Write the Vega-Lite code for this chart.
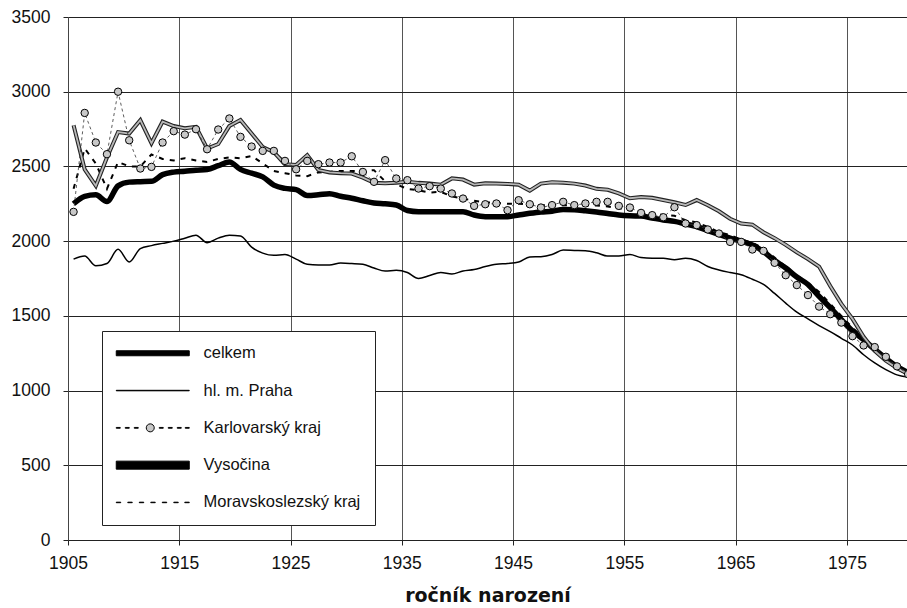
{
  "$schema": "https://vega.github.io/schema/vega-lite/v6.json",
  "width": 839,
  "height": 523,
  "autosize": {"type": "none"},
  "padding": {"left": 68, "top": 17, "right": 0, "bottom": 68},
  "background": "white",
  "config": {
    "view": {"stroke": null},
    "axis": {
      "labelFont": "Liberation Sans, Arial, sans-serif",
      "labelFontSize": 17.5,
      "labelColor": "#111",
      "labelFlush": false,
      "tickColor": "#222",
      "tickSize": 5,
      "domainColor": "#444",
      "gridColor": "#333",
      "gridWidth": 1,
      "gridOpacity": 1
    },
    "legend": {
      "orient": "none",
      "legendX": 34,
      "legendY": 314,
      "strokeColor": "#222",
      "fillColor": "white",
      "padding": 14,
      "labelFont": "Liberation Sans, Arial, sans-serif",
      "labelFontSize": 16.5,
      "labelColor": "#111",
      "labelOffset": 71,
      "labelLimit": 400,
      "rowPadding": 20.3,
      "symbolSize": 100,
      "symbolStrokeColor": "black",
      "symbolStrokeWidth": 1,
      "symbolOpacity": 1
    }
  },
  "data": {
    "values": [
      {"year": 1905, "celkem": 2250, "praha": 1880, "karlovarsky": 2196, "vysocina": 2775, "msk": 2350},
      {"year": 1906, "celkem": 2300, "praha": 1900, "karlovarsky": 2858, "vysocina": 2480, "msk": 2620},
      {"year": 1907, "celkem": 2310, "praha": 1835, "karlovarsky": 2660, "vysocina": 2370, "msk": 2520},
      {"year": 1908, "celkem": 2265, "praha": 1850, "karlovarsky": 2582, "vysocina": 2560, "msk": 2350},
      {"year": 1909, "celkem": 2370, "praha": 1945, "karlovarsky": 3000, "vysocina": 2730, "msk": 2530},
      {"year": 1910, "celkem": 2395, "praha": 1860, "karlovarsky": 2675, "vysocina": 2720, "msk": 2500},
      {"year": 1911, "celkem": 2398, "praha": 1950, "karlovarsky": 2486, "vysocina": 2810, "msk": 2500},
      {"year": 1912, "celkem": 2400, "praha": 1970, "karlovarsky": 2497, "vysocina": 2655, "msk": 2580},
      {"year": 1913, "celkem": 2445, "praha": 1985, "karlovarsky": 2660, "vysocina": 2800, "msk": 2550},
      {"year": 1914, "celkem": 2462, "praha": 2000, "karlovarsky": 2736, "vysocina": 2770, "msk": 2540},
      {"year": 1915, "celkem": 2468, "praha": 2020, "karlovarsky": 2713, "vysocina": 2755, "msk": 2555},
      {"year": 1916, "celkem": 2475, "praha": 2040, "karlovarsky": 2749, "vysocina": 2765, "msk": 2540},
      {"year": 1917, "celkem": 2480, "praha": 1990, "karlovarsky": 2615, "vysocina": 2620, "msk": 2530},
      {"year": 1918, "celkem": 2505, "praha": 2020, "karlovarsky": 2747, "vysocina": 2650, "msk": 2550},
      {"year": 1919, "celkem": 2530, "praha": 2040, "karlovarsky": 2821, "vysocina": 2770, "msk": 2560},
      {"year": 1920, "celkem": 2480, "praha": 2035, "karlovarsky": 2698, "vysocina": 2811, "msk": 2555},
      {"year": 1921, "celkem": 2455, "praha": 1960, "karlovarsky": 2633, "vysocina": 2720, "msk": 2570},
      {"year": 1922, "celkem": 2430, "praha": 1920, "karlovarsky": 2604, "vysocina": 2630, "msk": 2520},
      {"year": 1923, "celkem": 2375, "praha": 1905, "karlovarsky": 2604, "vysocina": 2595, "msk": 2470},
      {"year": 1924, "celkem": 2353, "praha": 1910, "karlovarsky": 2537, "vysocina": 2515, "msk": 2455},
      {"year": 1925, "celkem": 2345, "praha": 1880, "karlovarsky": 2481, "vysocina": 2510, "msk": 2440},
      {"year": 1926, "celkem": 2305, "praha": 1845, "karlovarsky": 2537, "vysocina": 2576, "msk": 2435},
      {"year": 1927, "celkem": 2310, "praha": 1840, "karlovarsky": 2515, "vysocina": 2476, "msk": 2460},
      {"year": 1928, "celkem": 2318, "praha": 1840, "karlovarsky": 2526, "vysocina": 2460, "msk": 2465},
      {"year": 1929, "celkem": 2300, "praha": 1853, "karlovarsky": 2526, "vysocina": 2455, "msk": 2470},
      {"year": 1930, "celkem": 2287, "praha": 1850, "karlovarsky": 2568, "vysocina": 2452, "msk": 2470},
      {"year": 1931, "celkem": 2270, "praha": 1845, "karlovarsky": 2463, "vysocina": 2425, "msk": 2470},
      {"year": 1932, "celkem": 2255, "praha": 1820, "karlovarsky": 2397, "vysocina": 2390, "msk": 2475},
      {"year": 1933, "celkem": 2250, "praha": 1800, "karlovarsky": 2542, "vysocina": 2387, "msk": 2400},
      {"year": 1934, "celkem": 2242, "praha": 1805, "karlovarsky": 2419, "vysocina": 2391, "msk": 2380},
      {"year": 1935, "celkem": 2205, "praha": 1790, "karlovarsky": 2408, "vysocina": 2398, "msk": 2350},
      {"year": 1936, "celkem": 2197, "praha": 1750, "karlovarsky": 2352, "vysocina": 2390, "msk": 2340},
      {"year": 1937, "celkem": 2197, "praha": 1770, "karlovarsky": 2368, "vysocina": 2385, "msk": 2325},
      {"year": 1938, "celkem": 2197, "praha": 1790, "karlovarsky": 2352, "vysocina": 2378, "msk": 2330},
      {"year": 1939, "celkem": 2197, "praha": 1780, "karlovarsky": 2319, "vysocina": 2420, "msk": 2300},
      {"year": 1940, "celkem": 2197, "praha": 1800, "karlovarsky": 2285, "vysocina": 2412, "msk": 2285},
      {"year": 1941, "celkem": 2175, "praha": 1810, "karlovarsky": 2236, "vysocina": 2378, "msk": 2270},
      {"year": 1942, "celkem": 2164, "praha": 1830, "karlovarsky": 2247, "vysocina": 2387, "msk": 2260},
      {"year": 1943, "celkem": 2164, "praha": 1845, "karlovarsky": 2252, "vysocina": 2385, "msk": 2255},
      {"year": 1944, "celkem": 2164, "praha": 1850, "karlovarsky": 2207, "vysocina": 2383, "msk": 2250},
      {"year": 1945, "celkem": 2175, "praha": 1860, "karlovarsky": 2274, "vysocina": 2378, "msk": 2250},
      {"year": 1946, "celkem": 2186, "praha": 1894, "karlovarsky": 2247, "vysocina": 2338, "msk": 2245},
      {"year": 1947, "celkem": 2195, "praha": 1896, "karlovarsky": 2225, "vysocina": 2385, "msk": 2240},
      {"year": 1948, "celkem": 2200, "praha": 1910, "karlovarsky": 2241, "vysocina": 2394, "msk": 2240},
      {"year": 1949, "celkem": 2212, "praha": 1940, "karlovarsky": 2263, "vysocina": 2391, "msk": 2240},
      {"year": 1950, "celkem": 2210, "praha": 1938, "karlovarsky": 2241, "vysocina": 2385, "msk": 2240},
      {"year": 1951, "celkem": 2203, "praha": 1936, "karlovarsky": 2252, "vysocina": 2372, "msk": 2240},
      {"year": 1952, "celkem": 2195, "praha": 1922, "karlovarsky": 2263, "vysocina": 2350, "msk": 2238},
      {"year": 1953, "celkem": 2185, "praha": 1900, "karlovarsky": 2263, "vysocina": 2344, "msk": 2232},
      {"year": 1954, "celkem": 2175, "praha": 1900, "karlovarsky": 2236, "vysocina": 2320, "msk": 2220},
      {"year": 1955, "celkem": 2170, "praha": 1910, "karlovarsky": 2225, "vysocina": 2287, "msk": 2205},
      {"year": 1956, "celkem": 2168, "praha": 1890, "karlovarsky": 2189, "vysocina": 2295, "msk": 2195},
      {"year": 1957, "celkem": 2155, "praha": 1885, "karlovarsky": 2174, "vysocina": 2290, "msk": 2185},
      {"year": 1958, "celkem": 2142, "praha": 1885, "karlovarsky": 2160, "vysocina": 2275, "msk": 2175},
      {"year": 1959, "celkem": 2132, "praha": 1875, "karlovarsky": 2227, "vysocina": 2260, "msk": 2170},
      {"year": 1960, "celkem": 2115, "praha": 1885, "karlovarsky": 2118, "vysocina": 2242, "msk": 2140},
      {"year": 1961, "celkem": 2098, "praha": 1870, "karlovarsky": 2107, "vysocina": 2275, "msk": 2125},
      {"year": 1962, "celkem": 2070, "praha": 1830, "karlovarsky": 2078, "vysocina": 2240, "msk": 2095},
      {"year": 1963, "celkem": 2045, "praha": 1807, "karlovarsky": 2051, "vysocina": 2200, "msk": 2060},
      {"year": 1964, "celkem": 2020, "praha": 1790, "karlovarsky": 1995, "vysocina": 2150, "msk": 2040},
      {"year": 1965, "celkem": 2000, "praha": 1775, "karlovarsky": 1995, "vysocina": 2118, "msk": 2010},
      {"year": 1966, "celkem": 1975, "praha": 1745, "karlovarsky": 1944, "vysocina": 2110, "msk": 1990},
      {"year": 1967, "celkem": 1930, "praha": 1710, "karlovarsky": 1935, "vysocina": 2060, "msk": 1950},
      {"year": 1968, "celkem": 1870, "praha": 1650, "karlovarsky": 1855, "vysocina": 2020, "msk": 1890},
      {"year": 1969, "celkem": 1820, "praha": 1585, "karlovarsky": 1772, "vysocina": 1975, "msk": 1830},
      {"year": 1970, "celkem": 1760, "praha": 1525, "karlovarsky": 1706, "vysocina": 1925, "msk": 1770},
      {"year": 1971, "celkem": 1710, "praha": 1480, "karlovarsky": 1639, "vysocina": 1880, "msk": 1720},
      {"year": 1972, "celkem": 1630, "praha": 1435, "karlovarsky": 1562, "vysocina": 1830, "msk": 1660},
      {"year": 1973, "celkem": 1555, "praha": 1395, "karlovarsky": 1511, "vysocina": 1700, "msk": 1580},
      {"year": 1974, "celkem": 1475, "praha": 1350, "karlovarsky": 1455, "vysocina": 1580, "msk": 1500},
      {"year": 1975, "celkem": 1400, "praha": 1305, "karlovarsky": 1364, "vysocina": 1480, "msk": 1420},
      {"year": 1976, "celkem": 1340, "praha": 1240, "karlovarsky": 1302, "vysocina": 1360, "msk": 1350},
      {"year": 1977, "celkem": 1275, "praha": 1185, "karlovarsky": 1291, "vysocina": 1265, "msk": 1285},
      {"year": 1978, "celkem": 1215, "praha": 1140, "karlovarsky": 1226, "vysocina": 1200, "msk": 1220},
      {"year": 1979, "celkem": 1160, "praha": 1105, "karlovarsky": 1162, "vysocina": 1150, "msk": 1165},
      {"year": 1980, "celkem": 1120, "praha": 1090, "karlovarsky": 1110, "vysocina": 1110, "msk": 1120}
    ]
  },
  "encoding": {
    "x": {
      "field": "year",
      "type": "quantitative",
      "scale": {"domain": [1904.5, 1979.9], "nice": false, "zero": false},
      "axis": {
        "values": [1904.5, 1914.5, 1924.5, 1934.5, 1944.5, 1954.5, 1964.5, 1974.5],
        "labelExpr": "format(datum.value + 0.5, 'd')",
        "grid": true,
        "gridColor": "#555",
        "domainColor": "#222",
        "labelPadding": 9,
        "title": "ročník narození",
        "titleFont": "DejaVu Sans",
        "titleFontWeight": "bold",
        "titleFontSize": 19,
        "titleColor": "#111",
        "titlePadding": 15
      }
    }
  },
  "layer": [
    {
      "mark": {"type": "line", "color": "black", "strokeWidth": 1.5, "interpolate": "monotone", "clip": true},
      "encoding": {
        "y": {
          "field": "praha",
          "type": "quantitative",
          "scale": {"domain": [0, 3500], "nice": false},
          "axis": {
            "values": [0, 500, 1000, 1500, 2000, 2500, 3000, 3500],
            "format": "d",
            "grid": true,
            "gridColor": "#222",
            "labelPadding": 13,
            "title": null
          }
        }
      }
    },
    {
      "mark": {"type": "line", "color": "black", "strokeWidth": 2, "strokeDash": [5, 6], "clip": true},
      "encoding": {"y": {"field": "msk", "type": "quantitative"}}
    },
    {
      "mark": {"type": "line", "color": "black", "strokeWidth": 5.5, "interpolate": "monotone", "clip": true},
      "encoding": {"y": {"field": "celkem", "type": "quantitative"}}
    },
    {
      "mark": {"type": "line", "color": "#222", "strokeWidth": 4, "clip": true},
      "encoding": {"y": {"field": "vysocina", "type": "quantitative"}}
    },
    {
      "mark": {"type": "line", "color": "#b8b8b8", "strokeWidth": 1.8, "clip": true},
      "encoding": {"y": {"field": "vysocina", "type": "quantitative"}}
    },
    {
      "mark": {"type": "line", "color": "#333", "strokeWidth": 0.8, "strokeDash": [3, 3], "clip": true},
      "encoding": {"y": {"field": "karlovarsky", "type": "quantitative"}}
    },
    {
      "mark": {"type": "point", "filled": true, "stroke": "black", "strokeWidth": 1, "size": 55, "opacity": 1, "clip": true},
      "encoding": {
        "y": {"field": "karlovarsky", "type": "quantitative"},
        "fill": {
          "datum": "Karlovarský kraj",
          "type": "nominal",
          "scale": {
            "domain": ["celkem", "hl. m. Praha", "Karlovarský kraj", "Vysočina", "Moravskoslezský kraj"],
            "range": ["black", "black", "#c8c8c8", "black", "black"]
          },
          "legend": {"title": null}
        }
      }
    },
    {
      "transform": [{"filter": "false"}],
      "mark": {"type": "point", "filled": true, "opacity": 1, "strokeWidth": 1},
      "encoding": {
        "y": {"field": "celkem", "type": "quantitative"},
        "fill": {"datum": "celkem", "type": "nominal"},
        "stroke": {
          "datum": "celkem",
          "type": "nominal",
          "scale": {
            "domain": ["celkem", "hl. m. Praha", "Karlovarský kraj", "Vysočina", "Moravskoslezský kraj"],
            "range": ["black", "black", "black", "black", "black"]
          },
          "legend": {"title": null}
        },
        "shape": {
          "datum": "celkem",
          "type": "nominal",
          "scale": {
            "domain": ["celkem", "hl. m. Praha", "Karlovarský kraj", "Vysočina", "Moravskoslezský kraj"],
            "range": [
              "M-1.6,-0.5H13V0.5H-1.6Z",
              "M-1.6,-0.05H13V0.05H-1.6Z",
              "M-1.6,-0.08H-0.8V0.08H-1.6ZM0.2,-0.08H1V0.08H0.2ZM2,-0.08H2.8V0.08H2ZM4.4,0A0.8,0.8,0,1,1,6,0A0.8,0.8,0,1,1,4.4,0ZM7,-0.08H7.8V0.08H7ZM8.8,-0.08H9.6V0.08H8.8ZM10.6,-0.08H11.4V0.08H10.6ZM12.2,-0.08H13V0.08H12.2Z",
              "M-1.6,-0.8H13V0.8H-1.6Z",
              "M-1.6,-0.05H-0.7V0.05H-1.6ZM0.7,-0.05H1.6V0.05H0.7ZM3,-0.05H3.9V0.05H3ZM5.3,-0.05H6.2V0.05H5.3ZM7.6,-0.05H8.5V0.05H7.6ZM9.9,-0.05H10.8V0.05H9.9ZM12.1,-0.05H13V0.05H12.1Z"
            ]
          },
          "legend": {"title": null}
        }
      }
    }
  ]
}
